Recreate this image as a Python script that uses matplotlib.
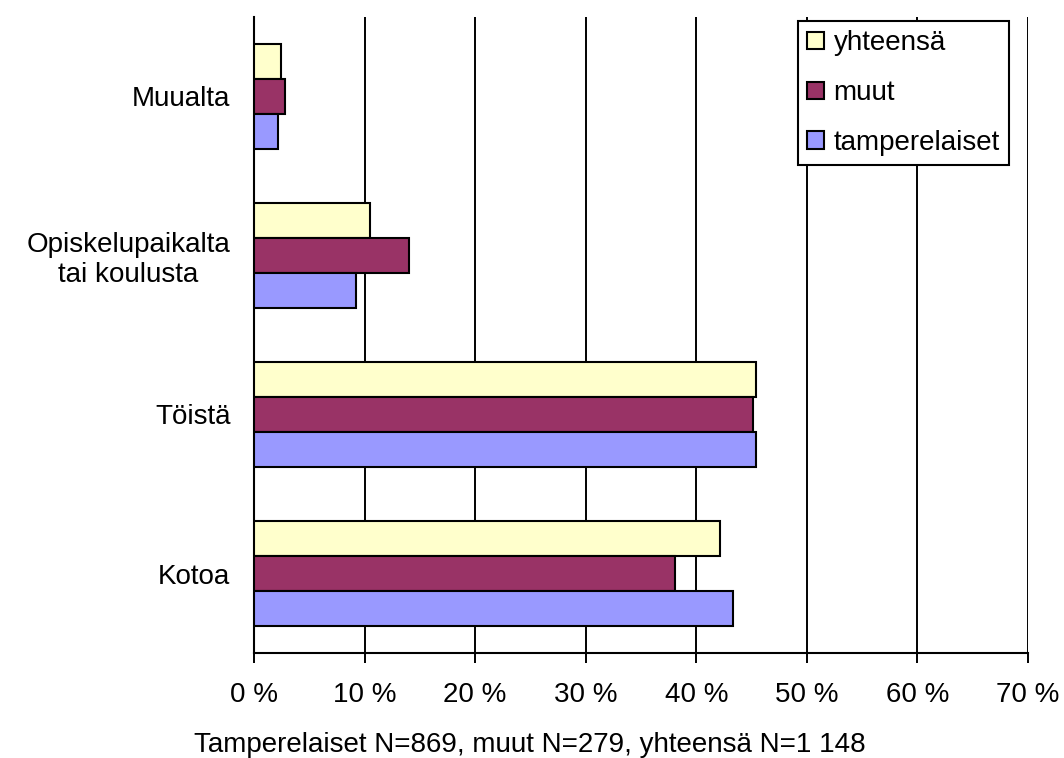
import matplotlib.pyplot as plt
import numpy as np

plt.rcParams['font.family'] = ['Liberation Sans', 'DejaVu Sans']

categories = ["Kotoa", "Töistä", "Opiskelupaikalta\ntai koulusta", "Muualta"]
series_names = ["yhteensä", "muut", "tamperelaiset"]
yhteensa = [42.1, 45.4, 10.5, 2.4]
muut = [38.1, 45.1, 14.0, 2.8]
tamperelaiset = [43.3, 45.4, 9.2, 2.2]
colors = ["#FFFFCC", "#993366", "#9999FF"]
x_ticks = [0, 10, 20, 30, 40, 50, 60, 70]
footnote = "Tamperelaiset N=869, muut N=279, yhteensä N=1 148"

W, H = 1064, 758
fig = plt.figure(figsize=(W / 100, H / 100), dpi=100)
ax = fig.add_axes([254 / W, 1 - 653 / H, (1028 - 254) / W, (653 - 17) / H])

y = np.arange(len(categories))
h = 0.22
offsets = [h, 0, -h]
handles = []
for vals, off, col, name in zip([yhteensa, muut, tamperelaiset], offsets, colors, series_names):
    b = ax.barh(y + off, vals, height=h, color=col, edgecolor="black",
                linewidth=1.5, label=name, zorder=3)
    handles.append(b)

ax.set_xlim(0, 70)
ax.set_ylim(-0.5, len(categories) - 0.5)
ax.set_xticks(x_ticks)
ax.set_xticklabels([f"{t} %" for t in x_ticks], fontsize=20)
ax.set_yticks(y)
ax.set_yticklabels(categories, fontsize=20)
for lbl in ax.get_yticklabels():
    lbl.set_multialignment("center")
ax.tick_params(axis="y", length=0, pad=17)
ax.tick_params(axis="x", length=7, width=1.4, direction="out", pad=14, color="black")

ax.xaxis.grid(True, color="black", linewidth=1.4, zorder=0)
ax.set_axisbelow(True)
for s in ["top", "right"]:
    ax.spines[s].set_visible(False)
ax.spines["left"].set_linewidth(1.5)
ax.spines["bottom"].set_linewidth(1.5)

leg = ax.legend(handles=handles, loc="upper right", bbox_to_anchor=(1009 / W, 1 - 21 / H),
                bbox_transform=fig.transFigure, fontsize=20, frameon=True, fancybox=False,
                handlelength=0.58, handleheight=0.58, handletextpad=0.36, labelspacing=0.86,
                borderpad=0.33, borderaxespad=0, framealpha=1)
leg.get_frame().set_edgecolor("black")
leg.get_frame().set_linewidth(1.5)

fig.text(530 / W, 1 - 745 / H, footnote, ha="center", va="center", fontsize=20)

fig.savefig("out.png", dpi=100)
